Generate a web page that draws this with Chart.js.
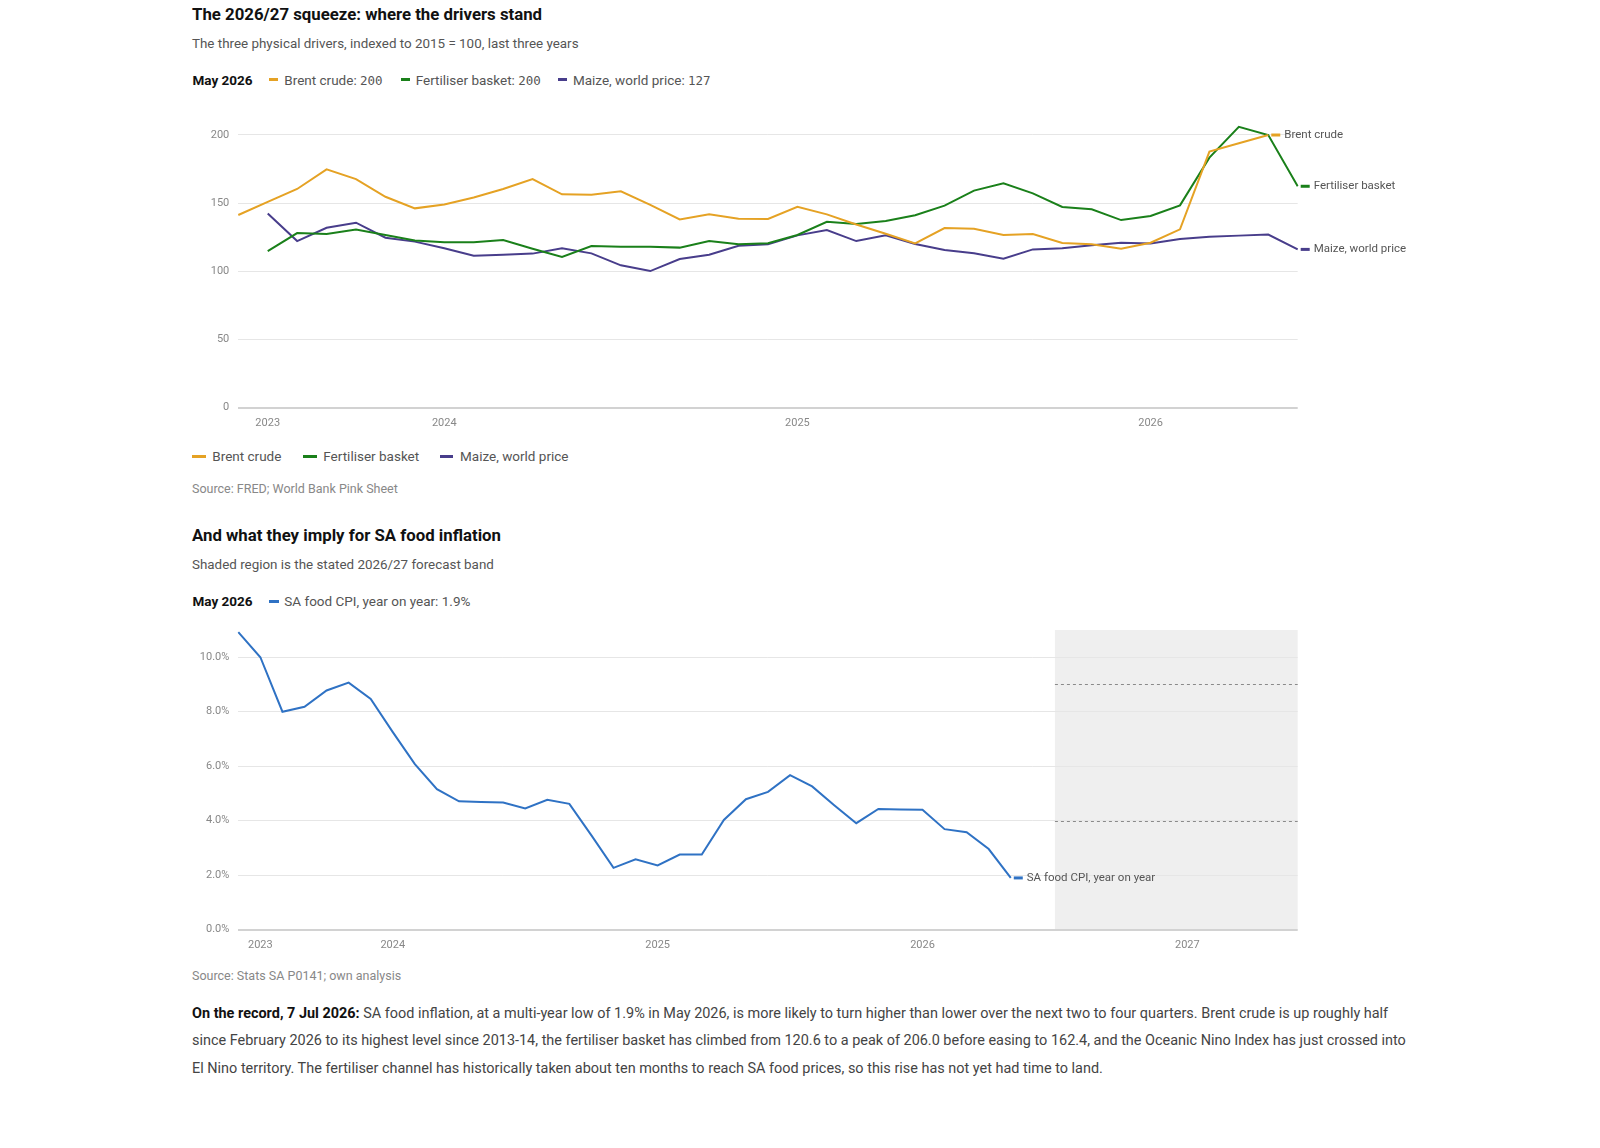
<!DOCTYPE html>
<html><head><meta charset="utf-8">
<script src="https://cdn.jsdelivr.net/npm/chart.js@4.4.1/dist/chart.umd.min.js"></script>
<style>
html,body{margin:0;padding:0;background:#fff}
body{width:1600px;height:1148px;position:relative;overflow:hidden;font-family:Roboto,"Noto Sans",sans-serif}
.abs{position:absolute;white-space:nowrap}
.title{font-weight:700;font-size:16.8px;line-height:20px;color:#111}
.sub{font-size:13.4px;line-height:16px;color:#555}
.leg{font-size:13.5px;line-height:16px;color:#555}
.legb{font-size:13.5px;line-height:16px;color:#111;font-weight:700}
.num{font-family:"DejaVu Sans Mono",monospace;font-size:12.5px}
.dash{position:absolute;height:3px}
.src{font-size:12.5px;line-height:16px;color:#888}
.para{font-size:14.45px;line-height:27.5px;color:#444}
.para b{color:#111}
canvas{position:absolute}
</style></head>
<body>
<div class="abs title" style="left:192px;top:4px">The 2026/27 squeeze: where the drivers stand</div>
<div class="abs sub" style="left:192px;top:35.5px">The three physical drivers, indexed to 2015 = 100, last three years</div>
<div class="abs legb" style="left:192.5px;top:71.5px">May 2026</div>
<div class="dash" style="left:268.6px;top:78px;width:9.6px;background:#e5a224"></div>
<div class="abs leg" style="left:284.3px;top:71.5px">Brent crude: <span class="num">200</span></div>
<div class="dash" style="left:400.7px;top:78px;width:9.6px;background:#1a801a"></div>
<div class="abs leg" style="left:415.7px;top:71.5px">Fertiliser basket: <span class="num">200</span></div>
<div class="dash" style="left:557.9px;top:78px;width:9.6px;background:#483d8b"></div>
<div class="abs leg" style="left:572.9px;top:71.5px">Maize, world price: <span class="num">127</span></div>

<canvas id="c1" width="1240" height="335" style="left:180px;top:100px"></canvas>

<div class="dash" style="left:192.3px;top:454.5px;width:13.4px;background:#e5a224"></div>
<div class="abs leg" style="left:212.3px;top:447.7px">Brent crude</div>
<div class="dash" style="left:303.3px;top:454.5px;width:13.4px;background:#1a801a"></div>
<div class="abs leg" style="left:323.3px;top:447.7px">Fertiliser basket</div>
<div class="dash" style="left:440px;top:454.5px;width:13.4px;background:#483d8b"></div>
<div class="abs leg" style="left:460px;top:447.7px">Maize, world price</div>
<div class="abs src" style="left:192px;top:481.3px">Source: FRED; World Bank Pink Sheet</div>

<div class="abs title" style="left:192px;top:525px">And what they imply for SA food inflation</div>
<div class="abs sub" style="left:192px;top:557.3px">Shaded region is the stated 2026/27 forecast band</div>
<div class="abs legb" style="left:192.5px;top:593px">May 2026</div>
<div class="dash" style="left:269.3px;top:599.5px;width:9.7px;background:#2f72c4"></div>
<div class="abs leg" style="left:284.3px;top:593px">SA food CPI, year on year: 1.9%</div>

<canvas id="c2" width="1240" height="347" style="left:180px;top:610px"></canvas>

<div class="abs src" style="left:192px;top:967.5px">Source: Stats SA P0141; own analysis</div>
<div class="abs para" style="left:192px;top:999.5px"><b>On the record, 7 Jul 2026:</b> SA food inflation, at a multi-year low of 1.9% in May 2026, is more likely to turn higher than lower over the next two to four quarters. Brent crude is up roughly half<br>since February 2026 to its highest level since 2013-14, the fertiliser basket has climbed from 120.6 to a peak of 206.0 before easing to 162.4, and the Oceanic Nino Index has just crossed into<br>El Nino territory. The fertiliser channel has historically taken about ten months to reach SA food prices, so this rise has not yet had time to land.</div>

<script>
// ---------- DATA ----------
const months = ['2023-06','2023-07','2023-08','2023-09','2023-10','2023-11','2023-12',
  '2024-01','2024-02','2024-03','2024-04','2024-05','2024-06','2024-07','2024-08','2024-09','2024-10','2024-11','2024-12',
  '2025-01','2025-02','2025-03','2025-04','2025-05','2025-06','2025-07','2025-08','2025-09','2025-10','2025-11','2025-12',
  '2026-01','2026-02','2026-03','2026-04','2026-05','2026-06','2026-07','2026-08','2026-09','2026-10','2026-11','2026-12',
  '2027-01','2027-02','2027-03','2027-04','2027-05','2027-06'];
const monthsDrivers = months.slice(0, 37);   // Jun 2023 - Jun 2026
const monthsCpi = months;                    // Jun 2023 - Jun 2027

const yearTickLabels = {'2023-07':'2023','2024-01':'2024','2025-01':'2025','2026-01':'2026','2027-01':'2027'};

const brent = [141.3,151.0,160.4,174.8,167.7,154.7,146.2,149.1,154.2,160.4,167.7,156.5,156.2,158.7,148.7,138.1,141.8,138.6,138.4,147.4,141.8,134.4,127.6,120.5,131.8,131.3,126.7,127.4,120.8,119.8,116.6,121.0,130.8,187.8,193.9,200.0,null];
const fertiliser = [null,114.9,128.1,127.4,130.6,126.7,122.7,121.3,121.3,123.0,116.6,110.5,118.6,118.1,118.1,117.4,122.2,119.8,120.6,126.7,136.4,134.7,136.9,141.1,148.2,159.2,164.5,157.2,147.2,145.5,137.6,140.6,148.4,183.4,206.0,200.0,162.4];
const maize = [null,142.5,122.2,132.0,135.7,124.7,121.8,116.9,111.5,112.2,113.0,116.9,113.2,104.4,100.2,109.0,112.2,118.8,119.8,126.4,130.3,122.2,126.4,120.0,115.6,113.2,109.3,116.1,116.9,119.1,121.0,120.5,123.7,125.4,126.2,127.0,116.1];

const foodCpi = [10.92,10.0,8.0,8.18,8.78,9.07,8.47,7.25,6.08,5.16,4.71,4.69,4.67,4.45,4.77,4.62,3.46,2.27,2.58,2.36,2.76,2.76,4.03,4.79,5.06,5.67,5.26,4.57,3.91,4.43,4.41,4.40,3.69,3.58,2.96,1.9,
  null,null,null,null,null,null,null,null,null,null,null,null,null];

const bandStart = '2026-07';
const bandEnd = '2027-06';
const bandLines = [4, 9];

const colors = {brent:'#e5a224', fert:'#1a801a', maize:'#483d8b', cpi:'#2f72c4'};

// ---------- PLUGINS ----------
const endLabels = {
  id:'endLabels',
  afterDatasetsDraw(chart){
    const ctx = chart.ctx;
    chart.data.datasets.forEach((ds,i)=>{
      const meta = chart.getDatasetMeta(i);
      let idx = -1;
      ds.data.forEach((v,j)=>{ if(v!==null && v!==undefined) idx=j; });
      if(idx<0) return;
      const pt = meta.data[idx];
      ctx.save();
      ctx.strokeStyle = ds.borderColor; ctx.lineWidth = 3;
      ctx.beginPath(); ctx.moveTo(pt.x+3, pt.y); ctx.lineTo(pt.x+12, pt.y); ctx.stroke();
      ctx.fillStyle = '#555'; ctx.font = '11.5px Roboto'; ctx.textBaseline = 'middle'; ctx.textAlign='left';
      ctx.fillText(ds.label, pt.x+16, pt.y);
      ctx.restore();
    });
  }
};

const bandPlugin = {
  id:'band',
  beforeDraw(chart){
    const {ctx, chartArea:a, scales:{x}} = chart;
    const x0 = x.getPixelForValue(monthsCpi.indexOf(bandStart));
    const x1 = x.getPixelForValue(monthsCpi.indexOf(bandEnd));
    ctx.save(); ctx.fillStyle = '#efefef';
    ctx.fillRect(x0, a.top, x1-x0, a.bottom-a.top);
    ctx.restore();
  },
  beforeDatasetsDraw(chart){
    const {ctx, scales:{x,y}} = chart;
    const x0 = x.getPixelForValue(monthsCpi.indexOf(bandStart));
    const x1 = x.getPixelForValue(monthsCpi.indexOf(bandEnd));
    ctx.save(); ctx.strokeStyle = '#8a8a8a'; ctx.lineWidth = 1; ctx.setLineDash([3,3]);
    bandLines.forEach(v=>{
      const py = Math.round(y.getPixelForValue(v))+0.5;
      ctx.beginPath(); ctx.moveTo(x0, py); ctx.lineTo(x1, py); ctx.stroke();
    });
    ctx.restore();
  }
};

function options(yMax, yStep, fmt){
  return {
    responsive:false, animation:false, devicePixelRatio:1,
    layout:{padding:{top:20,right:122.3,left:0,bottom:0}},
    plugins:{legend:{display:false}, tooltip:{enabled:false}},
    elements:{point:{radius:0}, line:{borderWidth:2, tension:0}},
    scales:{
      x:{type:'category', offset:false,
         grid:{display:false, drawTicks:false}, border:{display:false},
         ticks:{autoSkip:false, maxRotation:0, minRotation:0, padding:9, color:'#888',
           font:{family:'Roboto', size:11},
           callback(v){ const lab = this.getLabelForValue(v); return yearTickLabels[lab] || ''; }},
         afterFit(s){ s.height = 27.3; }},
      y:{min:0, max:yMax,
         grid:{drawTicks:false,
           color:c=> c.tick && c.tick.value===0 ? '#d2d2d2' : '#e6e6e6',
           lineWidth:c=> c.tick && c.tick.value===0 ? 2 : 1},
         border:{display:false},
         ticks:{stepSize:yStep, includeBounds:false, padding:9, color:'#888',
           font:{family:'Roboto', size:11}, callback:fmt},
         afterFit(s){ s.width = 58.3; }}
    }
  };
}

new Chart(document.getElementById('c1'), {
  type:'line',
  data:{labels:monthsDrivers, datasets:[
    {label:'Brent crude', data:brent, borderColor:colors.brent, backgroundColor:colors.brent},
    {label:'Fertiliser basket', data:fertiliser, borderColor:colors.fert, backgroundColor:colors.fert},
    {label:'Maize, world price', data:maize, borderColor:colors.maize, backgroundColor:colors.maize}
  ]},
  options:options(211, 50, v=>String(v)),
  plugins:[endLabels]
});

new Chart(document.getElementById('c2'), {
  type:'line',
  data:{labels:monthsCpi, datasets:[
    {label:'SA food CPI, year on year', data:foodCpi, borderColor:colors.cpi, backgroundColor:colors.cpi}
  ]},
  options:options(11, 2, v=>Number(v).toFixed(1)+'%'),
  plugins:[bandPlugin, endLabels]
});
</script>
</body></html>
